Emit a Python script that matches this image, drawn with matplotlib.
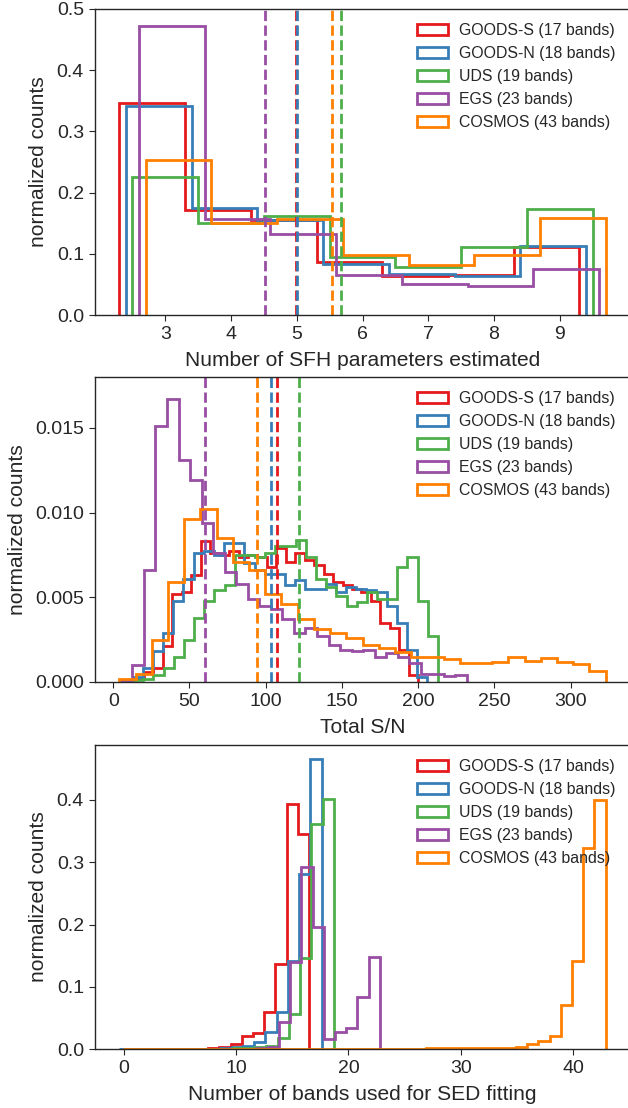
import numpy as np
import matplotlib
matplotlib.use("Agg")
import matplotlib.pyplot as plt
import matplotlib.ticker as mticker

# Fields and colours (ColorBrewer Set1)
fields = ["GOODS-S (17 bands)", "GOODS-N (18 bands)", "UDS (19 bands)",
          "EGS (23 bands)", "COSMOS (43 bands)"]
colors = ["#e41a1c", "#377eb8", "#4daf4a", "#984ea3", "#ff7f00"]

# --- Number of SFH parameters estimated (fraction per integer value) ---
nparam_values = [3, 4, 5, 6, 7, 8, 9]
nparam_frac = [
    [0.346, 0.172, 0.156, 0.086, 0.064, 0.066, 0.111],  # GOODS-S
    [0.342, 0.175, 0.156, 0.083, 0.067, 0.064, 0.113],  # GOODS-N
    [0.226, 0.151, 0.161, 0.094, 0.079, 0.111, 0.174],  # UDS
    [0.473, 0.157, 0.132, 0.066, 0.050, 0.048, 0.075],  # EGS
    [0.253, 0.151, 0.157, 0.098, 0.081, 0.098, 0.159],  # COSMOS
]
nparam_mean = [4.99, 5.00, 5.675, 4.51, 5.53]
nparam_shift = [-0.2, -0.1, 0.0, 0.1, 0.2]

# --- Total S/N: 30 bins between each field's min and max ---
sn_range = [(14, 200), (6, 206), (13, 213), (5, 232), (4, 323)]
sn_density = [
    [0.0002, 0.0006, 0.0008, 0.0021, 0.0052, 0.0053, 0.0063, 0.0083, 0.0076, 0.0075,
     0.0077, 0.0074, 0.0075, 0.0074, 0.0068, 0.0079, 0.0071, 0.0076, 0.0072, 0.0069,
     0.0064, 0.0059, 0.0057, 0.0055, 0.0053, 0.0048, 0.0035, 0.0032, 0.0019, 0.0004],
    [0.00005, 0.0003, 0.0008, 0.0018, 0.0029, 0.0048, 0.0061, 0.0076, 0.0077, 0.0075,
     0.0082, 0.0082, 0.0070, 0.0066, 0.0064, 0.0064, 0.0057, 0.0060, 0.0055, 0.0055,
     0.0058, 0.0053, 0.0056, 0.0055, 0.0054, 0.0053, 0.0045, 0.0035, 0.0019, 0.0003],
    [0.0001, 0.0002, 0.0004, 0.0008, 0.0015, 0.0025, 0.0038, 0.0048, 0.0054, 0.0057,
     0.0075, 0.0075, 0.0074, 0.0076, 0.0080, 0.0080, 0.0084, 0.0074, 0.0061, 0.0056,
     0.0051, 0.0045, 0.0047, 0.0053, 0.0049, 0.0049, 0.0068, 0.0074, 0.0048, 0.0027],
    [0.0001, 0.0010, 0.0066, 0.0151, 0.0167, 0.0131, 0.0119, 0.0094, 0.0076, 0.0065,
     0.0058, 0.0049, 0.0045, 0.0043, 0.0037, 0.0029, 0.0032, 0.0027, 0.0022, 0.0019,
     0.0018, 0.0019, 0.0015, 0.0017, 0.0015, 0.0011, 0.0005, 0.00045, 0.00035, 0.0004],
    [0.00015, 0.00045, 0.0025, 0.0059, 0.0096, 0.0102, 0.0085, 0.0071, 0.0066, 0.0052,
     0.0046, 0.0037, 0.0031, 0.0029, 0.0026, 0.0022, 0.0020, 0.00176, 0.0015, 0.0015,
     0.00137, 0.0011, 0.0011, 0.0012, 0.0015, 0.00125, 0.0014, 0.0012, 0.00106, 0.00066],
]
sn_mean = [107.4, 103.3, 122.0, 60.0, 94.3]

# --- Number of bands used for SED fitting ---
nband_values = [
    [8, 9, 10, 11, 12, 13, 14, 15, 16],
    [0, 9, 10, 11, 12, 13, 14, 15, 16, 17],
    [10, 11, 12, 13, 14, 15, 16, 17, 18],
    [12, 13, 14, 15, 16, 17, 18, 19, 20, 21, 22],
    [0, 27, 28, 29, 30, 31, 32, 33, 34, 35, 36, 37, 38, 39, 40, 41, 42],
]
nband_frac = [
    [0.001, 0.004, 0.008, 0.021, 0.026, 0.060, 0.136, 0.393, 0.345],
    [0.0, 0.002, 0.003, 0.005, 0.012, 0.027, 0.059, 0.142, 0.281, 0.465],
    [0.001, 0.002, 0.003, 0.005, 0.017, 0.057, 0.147, 0.361, 0.401],
    [0.002, 0.004, 0.043, 0.140, 0.293, 0.196, 0.016, 0.028, 0.034, 0.084, 0.148],
    [0.0, 0.001, 0.001, 0.001, 0.001, 0.001, 0.002, 0.002, 0.002, 0.004, 0.008,
     0.013, 0.021, 0.071, 0.141, 0.323, 0.400],
]
nband_shift = [0.0, 0.1, 0.2, 0.3, 0.4]

text_color = "#262626"
plt.rcParams.update({
    "font.family": ["Liberation Sans", "DejaVu Sans"],
    "text.color": text_color,
    "axes.labelcolor": text_color,
    "axes.edgecolor": text_color,
    "axes.linewidth": 1.0,
    "xtick.color": text_color,
    "ytick.color": text_color,
    "xtick.direction": "out",
    "ytick.direction": "out",
    "xtick.major.size": 4.5,
    "ytick.major.size": 4.5,
    "xtick.labelsize": 14,
    "ytick.labelsize": 14,
    "axes.labelsize": 15.1,
    "axes.labelpad": 6,
    "legend.fontsize": 11.4,
})

LW = 2.0
fig = plt.figure(figsize=(6.28, 11.08), dpi=100)
ax1 = fig.add_axes([0.1513, 0.7157, 0.8519, 0.2762])
ax2 = fig.add_axes([0.1513, 0.3845, 0.8519, 0.2753])
ax3 = fig.add_axes([0.1513, 0.0532, 0.8519, 0.2744])

# Panel 1: SFH parameters, each field shifted slightly so the steps don't overlap
for frac, shift, color, label in zip(nparam_frac, nparam_shift, colors, fields):
    x = np.array(nparam_values) + shift
    edges = np.arange(min(nparam_values) - 0.5, max(nparam_values) + 1.5) + shift
    ax1.hist(x, bins=edges, weights=frac, histtype="step", lw=LW, color=color, label=label)
for mean, color in zip(nparam_mean, colors):
    ax1.axvline(mean, color=color, ls="--", lw=LW)
ax1.set_xticks(nparam_values)
ax1.set_ylim(0, 0.5)
ax1.set_xlabel("Number of SFH parameters estimated")
ax1.set_ylabel("normalized counts")

# Panel 2: total S/N
for (lo, hi), dens, color, label in zip(sn_range, sn_density, colors, fields):
    edges = np.linspace(lo, hi, len(dens) + 1)
    centers = 0.5 * (edges[:-1] + edges[1:])
    ax2.hist(centers, bins=edges, weights=dens, histtype="step", lw=LW, color=color, label=label)
for mean, color in zip(sn_mean, colors):
    ax2.axvline(mean, color=color, ls="--", lw=LW)
ax2.set_ylim(0, 0.018)
ax2.yaxis.set_major_locator(mticker.MultipleLocator(0.005))
ax2.yaxis.set_major_formatter(mticker.FormatStrFormatter("%.3f"))
ax2.set_xlabel("Total S/N")
ax2.set_ylabel("normalized counts")

# Panel 3: number of bands used
for vals, frac, shift, color, label in zip(nband_values, nband_frac, nband_shift, colors, fields):
    x = np.array(vals) + shift
    edges = np.arange(min(vals) - 0.5, max(vals) + 1.5) + shift
    ax3.hist(x, bins=edges, weights=frac, histtype="step", lw=LW, color=color, label=label)
ax3.set_xlabel("Number of bands used for SED fitting")
ax3.set_ylabel("normalized counts")

for ax in (ax1, ax2, ax3):
    ax.legend(loc="upper right", frameon=False, handletextpad=0.7)

fig.savefig("out.png", dpi=100)
